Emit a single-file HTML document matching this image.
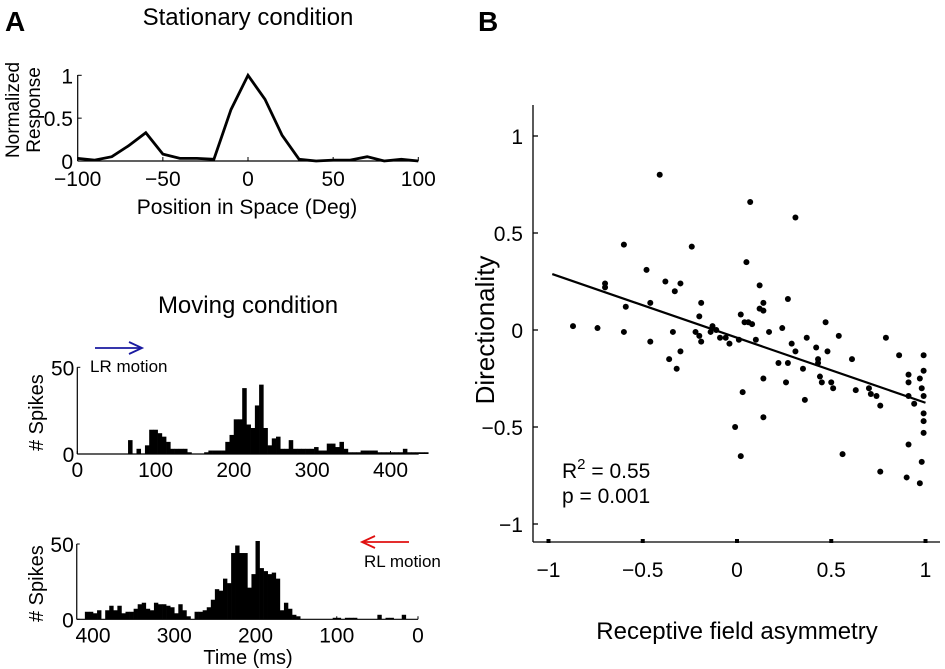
<!DOCTYPE html>
<html><head><meta charset="utf-8"><style>
html,body{margin:0;padding:0;background:#fff;}
svg{display:block;font-family:"Liberation Sans",Arial,sans-serif;}
</style></head><body>
<svg id="fig" width="945" height="669" viewBox="0 0 945 669" xmlns="http://www.w3.org/2000/svg">
<text x="5" y="31" font-size="28" font-weight="bold">A</text>
<text x="478" y="31" font-size="28" font-weight="bold">B</text>
<text x="248" y="25" font-size="24" text-anchor="middle">Stationary condition</text>
<text x="248" y="313" font-size="24" text-anchor="middle">Moving condition</text>
<g id="top"></g>
<g id="lr"></g>
<g id="rl"></g>
<g id="sc"></g>
</svg>
<script>
// ---- Stationary tuning data ----
const posDeg = [-100,-90,-80,-70,-60,-50,-40,-30,-20,-10,0,10,20,30,40,50,60,70,80,90,100];
const normResp = [0.03,0.01,0.05,0.18,0.33,0.08,0.03,0.03,0.02,0.6,1.0,0.72,0.3,0.02,0.0,0.01,0.01,0.05,0.0,0.02,0.0];
const topXTicks = [-100,-50,0,50,100];
const topYTicks = [0,0.5,1];
const topYLabels = ["0","0.5","1"];
// ---- LR histogram counts (bins from 0 ms) ----
const lrCounts = [0,0,0,0,0,0,0,0,0,0,0,0,8,0,3,0,5,14,14,12,10,7,3,3,3,3,1,0,0,0,1,2,2,2,2,7,11,20,20,38,17,15,28,40,15,5,9,10,3,3,8,3,3,3,3,3,4,2,2,6,6,4,7,3,1,1,1,2,2,2,2,1,1,1,1,1,1,3,1,1,1,1,1,0];
const lrXTicks = [0,100,200,300,400];
const histYTicks = [0,50];
// ---- RL histogram counts (bins from 0 ms) ----
const rlCounts = [0,0,0,3,0,0,1,1,0,3,0,0,0,0,0,1,1,1,0,1,1,0,0,0,0,0,0,0,0,2,3,7,11,6,27,31,30,32,34,52,30,21,44,44,49,44,24,27,19,20,13,8,6,5,5,0,2,6,10,4,8,9,10,10,11,6,7,11,10,7,5,5,4,9,6,9,6,0,6,4,5,5,0,0];
const rlXTicks = [400,300,200,100,0];
// ---- Scatter data ----
const asym = [-0.41,0.07,0.31,-0.60,-0.24,0.05,-0.48,-0.70,-0.70,-0.38,-0.30,-0.33,0.12,-0.59,-0.46,-0.19,0.12,0.14,0.14,0.27,-0.20,0.02,0.04,0.06,0.08,0.47,-0.87,-0.74,-0.60,-0.46,-0.34,-0.22,-0.20,-0.19,-0.14,-0.13,-0.11,-0.09,-0.06,-0.04,0.01,0.10,0.17,0.24,0.29,0.37,0.31,0.42,0.48,0.54,0.79,-0.36,-0.30,-0.32,0.22,0.27,0.35,0.43,0.61,0.86,0.99,0.14,0.91,0.99,0.43,0.44,0.45,0.50,0.51,0.63,0.70,0.71,0.74,0.76,0.91,0.91,0.94,0.97,0.98,0.99,0.99,0.99,0.99,0.26,0.36,0.14,0.03,-0.01,0.02,0.56,0.76,0.91,0.90,0.98,0.97];
const direc = [0.80,0.66,0.58,0.44,0.43,0.35,0.31,0.24,0.22,0.25,0.24,0.20,0.23,0.12,0.14,0.14,0.11,0.14,0.10,0.16,0.07,0.08,0.04,0.04,0.03,0.04,0.02,0.01,-0.01,-0.06,-0.01,-0.01,-0.03,-0.06,-0.01,0.02,0.00,-0.04,-0.04,-0.07,-0.05,-0.05,-0.01,0.01,-0.07,-0.04,-0.11,-0.09,-0.11,-0.03,-0.04,-0.15,-0.11,-0.20,-0.17,-0.17,-0.20,-0.15,-0.15,-0.13,-0.13,-0.25,-0.23,-0.21,-0.17,-0.24,-0.27,-0.27,-0.30,-0.31,-0.30,-0.33,-0.34,-0.39,-0.27,-0.34,-0.38,-0.25,-0.30,-0.34,-0.43,-0.47,-0.53,-0.27,-0.36,-0.45,-0.32,-0.50,-0.65,-0.64,-0.73,-0.59,-0.76,-0.68,-0.79];
const fitIntercept = -0.04;
const fitSlope = -0.335;
const scXTicks = [-1,-0.5,0,0.5,1];
const scYTicks = [-1,-0.5,0,0.5,1];

const NS = "http://www.w3.org/2000/svg";
function mk(parent, tag, attrs, text){
  const e = document.createElementNS(NS, tag);
  for (const k in attrs) e.setAttribute(k, attrs[k]);
  if (text !== undefined) e.textContent = text;
  parent.appendChild(e);
  return e;
}
function fmt(v){ return (v<0?"\u2212":"") + Math.abs(v); }

// ===== Stationary =====
(function(){
  const g = document.getElementById('top');
  const x = v => 77.7 + (v + 100) * (418.3 - 77.7) / 200;
  const y = v => 161 - v * 85.7;
  let e = mk(g,'line',{x1:77.7,y1:75,x2:77.7,y2:161,stroke:'#000','stroke-width':1.2});
   
  e = mk(g,'line',{x1:77.7,y1:161,x2:418.3,y2:161,stroke:'#000','stroke-width':1.2});
   
  topYTicks.forEach((t,i)=>{
    mk(g,'line',{x1:77.7,y1:y(t),x2:81.7,y2:y(t),stroke:'#000'});
    const l = mk(g,'text',{x:73,y:y(t)+8,'font-size':21,'text-anchor':'end'},topYLabels[i]);
     
  });
  topXTicks.forEach(t=>{
    mk(g,'line',{x1:x(t),y1:161,x2:x(t),y2:157,stroke:'#000'});
    const l = mk(g,'text',{x:x(t),y:186,'font-size':21,'text-anchor':'middle'},fmt(t));
     
  });
  const pts = posDeg.map((p,i)=>x(p).toFixed(1)+','+y(normResp[i]).toFixed(1)).join(' ');
  e = mk(g,'polyline',{points:pts,fill:'none',stroke:'#000','stroke-width':2.8,'stroke-linejoin':'miter'});
   
  e = mk(g,'text',{x:247,y:214,'font-size':21,'text-anchor':'middle'},'Position in Space (Deg)');
   
  e = mk(g,'text',{transform:'translate(19,110) rotate(-90)','font-size':19,'text-anchor':'middle'},'Normalized');
   
  e = mk(g,'text',{transform:'translate(40,110) rotate(-90)','font-size':19,'text-anchor':'middle'},'Response');
   
})();

// ===== Histograms =====
function hist(gid, counts, x0, pxPerMs, reversed, binW, axEnd, baseY, top50, ticks, prefix){
  const g = document.getElementById(gid);
  const x = ms => reversed ? x0 - ms * pxPerMs : x0 + ms * pxPerMs;
  const y = c => baseY - c * (baseY - top50) / 50;
  const axL = reversed ? x(axEnd) : x(0), axR = reversed ? x(0) : x(axEnd);
  counts.forEach((c,i)=>{
    if (c <= 0) return;
    const xa = x(i*binW), xb = x((i+1)*binW);
    const b = mk(g,'rect',{x:Math.min(xa,xb),y:y(c),width:Math.abs(xb-xa)+0.3,height:baseY-y(c),fill:'#000'});
    
    
  });
  let e = mk(g,'line',{x1:axL,y1:baseY,x2:axR,y2:baseY,stroke:'#000','stroke-width':1.2});
   
  e = mk(g,'line',{x1:axL,y1:top50,x2:axL,y2:baseY,stroke:'#000','stroke-width':1.2});
   
  histYTicks.forEach(t=>{
    mk(g,'line',{x1:axL,y1:y(t),x2:axL+3,y2:y(t),stroke:'#000'});
    const l = mk(g,'text',{x:axL-3,y:y(t)+8,'font-size':21,'text-anchor':'end'},String(t));
     
  });
  ticks.forEach(t=>{
    mk(g,'line',{x1:x(t),y1:baseY,x2:x(t),y2:baseY-3,stroke:'#000'});
    const l = mk(g,'text',{x:x(t),y:baseY+23,'font-size':21,'text-anchor':'middle'},String(t));
     
  });
  e = mk(g,'text',{transform:'translate(43,'+((baseY+top50)/2+2)+') rotate(-90)','font-size':20,'text-anchor':'middle'},'# Spikes');
   
}
hist('lr', lrCounts, 77.3, 0.783, false, 5.4, 436, 454, 367.3, lrXTicks, 'lr');
hist('rl', rlCounts, 418, 0.8125, true, 5, 420, 619.3, 544, rlXTicks, 'rl');
(function(){
  const g = document.getElementById('lr');
  let e = mk(g,'line',{x1:95,y1:348,x2:141,y2:348,stroke:'#1a1aa0','stroke-width':1.8});
   
  mk(g,'polyline',{points:'129,342 142,348 129,354',fill:'none',stroke:'#1a1aa0','stroke-width':1.8});
  e = mk(g,'text',{x:90,y:372,'font-size':17},'LR motion');
   
  const r = document.getElementById('rl');
  e = mk(r,'line',{x1:409,y1:542,x2:363,y2:542,stroke:'#e01010','stroke-width':1.8});
   
  mk(r,'polyline',{points:'375,536 362,542 375,548',fill:'none',stroke:'#e01010','stroke-width':1.8});
  e = mk(r,'text',{x:364,y:567,'font-size':17},'RL motion');
   
  e = mk(r,'text',{x:248,y:664,'font-size':20,'text-anchor':'middle'},'Time (ms)');
   
})();

// ===== Scatter =====
(function(){
  const g = document.getElementById('sc');
  const x = v => 737 + v * 188.5;
  const y = v => 330 - v * 194;
  let e = mk(g,'line',{x1:533,y1:105,x2:533,y2:542,stroke:'#000','stroke-width':1.3});
   
  e = mk(g,'line',{x1:533,y1:542,x2:940,y2:542,stroke:'#000','stroke-width':1.3});
   
  scYTicks.forEach(t=>{
    mk(g,'line',{x1:533,y1:y(t),x2:538,y2:y(t),stroke:'#000','stroke-width':1.3});
    const l = mk(g,'text',{x:523,y:y(t)+8,'font-size':21,'text-anchor':'end'},fmt(t));
     
  });
  scXTicks.forEach(t=>{
    mk(g,'rect',{x:x(t)-2,y:539,width:4,height:4,fill:'#000'});
    const l = mk(g,'text',{x:x(t),y:577,'font-size':21,'text-anchor':'middle'},fmt(t));
     
  });
  asym.forEach((a,i)=>{
    const c = mk(g,'circle',{cx:x(a),cy:y(direc[i]),r:3,fill:'#000'});
    
    
  });
  const xa = -0.98, xb = 1.0;
  e = mk(g,'line',{x1:x(xa),y1:y(fitIntercept+fitSlope*xa),x2:x(xb),y2:y(fitIntercept+fitSlope*xb),stroke:'#000','stroke-width':2.2});
   
  e = mk(g,'text',{x:562,y:478,'font-size':21},'');
   
  mk(e,'tspan',{},'R');
  mk(e,'tspan',{dy:-9,'font-size':15},'2');
  mk(e,'tspan',{dy:9},' = 0.55');
  e = mk(g,'text',{x:562,y:503,'font-size':21},'p = 0.001');
   
  e = mk(g,'text',{x:737,y:639,'font-size':24,'text-anchor':'middle'},'Receptive field asymmetry');
   
  e = mk(g,'text',{transform:'translate(494,330) rotate(-90)','font-size':26,'text-anchor':'middle'},'Directionality');
   
})();
</script>
</body></html>
